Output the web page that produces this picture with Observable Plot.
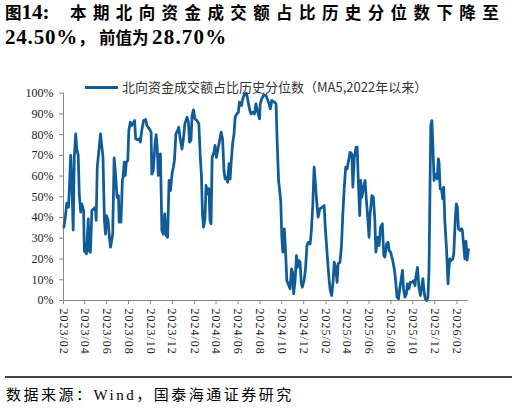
<!DOCTYPE html>
<html><head><meta charset="utf-8">
<script src="https://cdn.jsdelivr.net/npm/d3@7"></script>
<script src="https://cdn.jsdelivr.net/npm/@observablehq/plot@0.6"></script>
<style>
body{margin:0;width:517px;height:409px;position:relative;background:#fff;overflow:hidden}
.abs{position:absolute;white-space:nowrap}
.tl{font-family:"Liberation Serif",serif;font-weight:bold;font-size:21px;color:#000}
.tc{font-family:"Noto Sans CJK SC",sans-serif;font-weight:bold;font-size:16.5px;color:#000}
</style></head><body>
<div class="abs" style="left:5px;top:2px;line-height:20px"><span class="tc">图</span><span class="tl">14:</span></div>
<div class="abs tc" style="left:70px;top:2px;line-height:20px;letter-spacing:6.4px">本期北向资金成交额占比历史分位数下降至</div>
<div class="abs tl" style="left:5px;top:27px;line-height:20px;letter-spacing:0.8px">24.50%</div>
<div class="abs tc" style="left:78px;top:27px;line-height:20px">，</div>
<div class="abs tc" style="left:99px;top:27px;line-height:20px">前值为</div>
<div class="abs tl" style="left:152px;top:27px;line-height:20px;letter-spacing:1.2px">28.70%</div>
<div id="chart" class="abs" style="left:0;top:0"></div>
<div class="abs" style="left:85px;top:86px;width:33px;height:3px;background:#0f5c99"></div>
<div class="abs" style="left:122px;top:79px;line-height:16px;font-family:'Noto Sans CJK SC',sans-serif;font-size:13px;color:#333">北向资金成交额占比历史分位数（MA5,2022年以来）</div>
<div class="abs" style="left:5px;top:376px;width:507px;height:2px;background:#444"></div>
<div class="abs" style="left:6px;top:385px;line-height:20px;font-family:'Liberation Serif','Noto Sans CJK SC',serif;font-size:15px;letter-spacing:2.5px;color:#000">数据来源：Wind，国泰海通证券研究</div>
<script>
const axisStart = "2023-02-01";
const axisEnd = "2026-03-05";
const xTickLabels = ["2023/02","2023/04","2023/06","2023/08","2023/10","2023/12","2024/02","2024/04","2024/06","2024/08","2024/10","2024/12","2025/02","2025/04","2025/06","2025/08","2025/10","2025/12","2026/02"];
const yTicks = [0,10,20,30,40,50,60,70,80,90,100];

const d2023 = ["2023-02-02","2023-02-06","2023-02-10","2023-02-15","2023-02-17","2023-02-21","2023-02-24","2023-02-28","2023-03-03","2023-03-07",
"2023-03-10","2023-03-14","2023-03-17","2023-03-21","2023-03-24","2023-03-29","2023-03-31","2023-04-06","2023-04-11","2023-04-13",
"2023-04-17","2023-04-21","2023-04-26","2023-05-01","2023-05-03","2023-05-06","2023-05-11","2023-05-15","2023-05-19","2023-05-22",
"2023-05-26","2023-05-29","2023-06-01","2023-06-05","2023-06-09","2023-06-12","2023-06-18","2023-06-22","2023-06-26","2023-06-30",
"2023-07-04","2023-07-06","2023-07-11","2023-07-15","2023-07-17","2023-07-20","2023-07-23","2023-07-26","2023-07-30","2023-08-02",
"2023-08-06","2023-08-10","2023-08-18","2023-08-21","2023-08-26","2023-08-31","2023-09-03","2023-09-07","2023-09-12","2023-09-18",
"2023-09-21","2023-09-28","2023-10-03","2023-10-05","2023-10-09","2023-10-14","2023-10-17","2023-10-20","2023-10-23","2023-10-26",
"2023-10-29","2023-11-02","2023-11-06","2023-11-10","2023-11-14","2023-11-18","2023-11-22","2023-11-26","2023-12-01","2023-12-04",
"2023-12-07","2023-12-11","2023-12-16","2023-12-19","2023-12-23","2023-12-28"];
const v2023 = [35.4,40,47,45,53,70,58,34,69,80.4,
73,70,51,42.6,46.6,43.4,24,22.5,39.4,24,
23.3,43.4,44.2,45,38.6,64.3,73,80.4,74,69,
38.6,32,41,38.6,30,25.7,32,68.8,61,49.8,
50.6,37.8,37.8,58,59.5,66.7,60.3,66.7,67.5,82,
86,84.4,86.8,78,77.5,78,76.4,82,86.8,87.3,
84.4,82.8,81.2,61,62.7,75.6,80,74,60.3,70,
70.7,33.8,32,41.8,31.3,30.5,58,53,62,64.3,
67.5,80.4,82,83.6,78,73];

const d2024 = ["2024-01-01","2024-01-05","2024-01-11","2024-01-15","2024-01-18","2024-01-22","2024-01-25","2024-01-29","2024-02-02","2024-02-08",
"2024-02-13","2024-02-17","2024-02-20","2024-02-23","2024-02-26","2024-03-01","2024-03-04","2024-03-08","2024-03-12","2024-03-15",
"2024-03-18","2024-03-21","2024-03-26","2024-03-29","2024-04-02","2024-04-06","2024-04-10","2024-04-15","2024-04-19","2024-04-23",
"2024-04-26","2024-04-30","2024-05-03","2024-05-07","2024-05-10","2024-05-13","2024-05-17","2024-05-21","2024-05-24","2024-05-29",
"2024-06-02","2024-06-05","2024-06-11","2024-06-13","2024-06-19","2024-06-24","2024-06-27","2024-07-03","2024-07-07","2024-07-12",
"2024-07-17","2024-07-21","2024-07-25","2024-07-31","2024-08-02","2024-08-06","2024-08-11","2024-08-18","2024-08-25","2024-08-30",
"2024-09-03","2024-09-10","2024-09-15","2024-09-18","2024-09-22","2024-09-28","2024-10-01","2024-10-04","2024-10-08","2024-10-11",
"2024-10-15","2024-10-19","2024-10-24","2024-10-28","2024-10-31","2024-11-03","2024-11-07","2024-11-11","2024-11-14","2024-11-18",
"2024-11-21","2024-11-24","2024-11-27","2024-12-02","2024-12-06","2024-12-10","2024-12-14","2024-12-19","2024-12-22","2024-12-26",
"2024-12-30"];
const v2024 = [78,85.2,88.4,86,76.4,77.2,89.2,92,87.6,86.8,
85.2,69,61,41.8,35.4,39.4,55.5,51.4,54,38.6,
37,69,71.5,74.8,69,73,76.4,81.2,78,62.7,
58.7,59.5,57,66,58.7,66.7,75.6,80.4,88.4,90,
90.8,95.7,94,96.5,99.7,100,98,92.4,90,90.8,
90,94.9,91.6,87.6,94.9,97.3,98.9,98.9,95.7,92.4,
96.5,95.7,94.9,77.2,57.9,48.2,30.5,23.3,34.6,25.7,
9.6,8,5.6,15.3,13.7,3.2,9.6,21.7,16,19.3,
18.5,8.8,6.4,9.6,15.3,26.5,28.1,27.3,33,45,
64.3];

const d2025 = ["2025-01-02","2025-01-06","2025-01-10","2025-01-15","2025-01-21","2025-01-27","2025-01-30","2025-02-03","2025-02-07","2025-02-10",
"2025-02-13","2025-02-17","2025-02-21","2025-02-24","2025-02-28","2025-03-04","2025-03-07","2025-03-12","2025-03-16","2025-03-20",
"2025-03-24","2025-03-28","2025-04-01","2025-04-05","2025-04-09","2025-04-14","2025-04-17","2025-04-21","2025-04-26","2025-04-29",
"2025-05-02","2025-05-06","2025-05-09","2025-05-12","2025-05-17","2025-05-21","2025-05-24","2025-05-28","2025-06-01","2025-06-04",
"2025-06-09","2025-06-13","2025-06-17","2025-06-20","2025-06-25","2025-06-29","2025-07-03","2025-07-08","2025-07-12","2025-07-15",
"2025-07-20","2025-07-24","2025-07-27","2025-07-31","2025-08-06","2025-08-11","2025-08-14","2025-08-18","2025-08-22","2025-08-26",
"2025-08-29","2025-09-02","2025-09-05","2025-09-09","2025-09-13","2025-09-16","2025-09-20","2025-09-24","2025-09-29","2025-10-03",
"2025-10-07","2025-10-10","2025-10-14","2025-10-18","2025-10-22","2025-10-25","2025-10-29","2025-11-02","2025-11-05","2025-11-09",
"2025-11-12","2025-11-15","2025-11-18","2025-11-20","2025-11-23","2025-11-26","2025-11-29","2025-12-01","2025-12-04","2025-12-08",
"2025-12-11","2025-12-13","2025-12-16","2025-12-20","2025-12-23","2025-12-26","2025-12-29"];
const v2025 = [57.9,48.2,40.2,44.2,45,45.8,35.4,25.7,16,9.6,
4.8,2.4,9.6,18.5,16,8.8,17.7,18.5,25.7,41.8,
54.7,64.3,63.5,67.5,71.5,70.7,54.7,69.1,74,74,
57.9,41,57.9,49.8,54.7,57.9,49.8,41,30.5,41.8,
50.6,49.8,39.4,23.3,30.5,26.5,35.4,37,21.7,20.9,
27.3,28.1,24.1,23.3,19.3,14.5,9.6,1.6,0.8,6.4,
9.6,14.5,5.6,1.6,3.2,8,5.6,8.8,8.8,9.6,
7.2,12.1,16,6.4,2.4,5.6,10.5,3.2,0.8,0,
1.6,14.5,57.9,84.4,86.8,74,57.9,61,61,58.7,
68.3,66.7,53.9,53.9,49,54.7,38.6];

const d2026 = ["2026-01-03","2026-01-07","2026-01-09","2026-01-12","2026-01-16","2026-01-20","2026-01-23","2026-01-27","2026-01-30","2026-02-02",
"2026-02-05","2026-02-10","2026-02-14","2026-02-16","2026-02-19","2026-02-23","2026-02-26","2026-03-01","2026-03-05"];
const v2026 = [24.1,8,14.5,20.1,19.3,20.1,22.5,38.6,46.6,45,
34.6,33.8,34.6,33.8,27.3,20.1,28.7,19.5,24.5];

const parse = d3.utcParse("%Y-%m-%d");
const parseTick = d3.utcParse("%Y/%m");
const data = [];
[[d2023, v2023], [d2024, v2024], [d2025, v2025], [d2026, v2026]].forEach(([ds, vs]) =>
  ds.forEach((d, i) => data.push({date: parse(d), value: vs[i]})));
const xTicks = xTickLabels.map(parseTick);
const x0 = parse(axisStart);

const chart = Plot.plot({
  width: 517, height: 360,
  marginTop: 92.7, marginBottom: 60, marginLeft: 63, marginRight: 49,
  x: {type: "utc", domain: [x0, parse(axisEnd)]},
  y: {domain: [0, 100]},
  style: {fontFamily: "'Liberation Serif', serif", fontSize: "12px", color: "#222", background: "transparent", overflow: "visible"},
  marks: [
    Plot.ruleY([0], {stroke: "#878787", strokeWidth: 1}),
    Plot.ruleX([x0], {stroke: "#878787", strokeWidth: 1}),
    Plot.axisY({ticks: yTicks, tickSize: 4, tickPadding: 6, tickFormat: d => d + "%", stroke: "#878787", fill: "#222", label: null}),
    Plot.axisX({ticks: xTicks, tickSize: 4, tickPadding: 4, tickRotate: 90, tickFormat: d3.utcFormat("%Y/%m"), stroke: "#878787", fill: "#222", label: null}),
    Plot.line(data, {x: "date", y: "value", stroke: "#0f5c99", strokeWidth: 2.75, strokeLinejoin: "round"})
  ]
});
chart.querySelectorAll("[aria-label='x-axis tick label'] text").forEach(t => t.setAttribute("letter-spacing", "1"));
document.getElementById("chart").appendChild(chart);
</script>
</body></html>
